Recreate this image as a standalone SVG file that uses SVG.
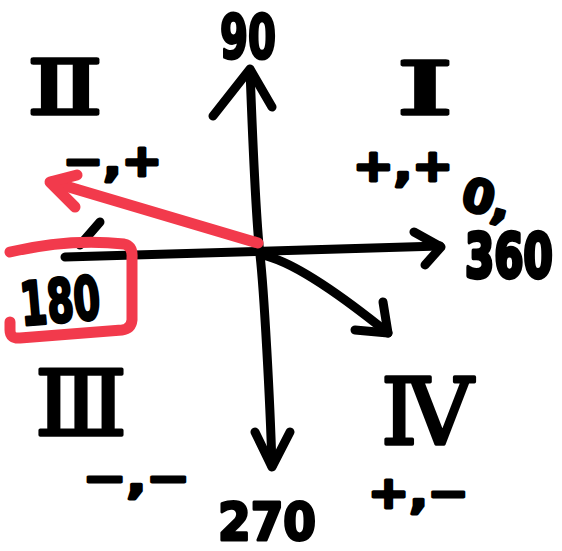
<svg xmlns="http://www.w3.org/2000/svg" width="562" height="551" viewBox="0 0 562 551">
<style>
.ink{fill:none;stroke:#000;stroke-width:9;stroke-linecap:round;stroke-linejoin:round}
.red{fill:none;stroke:#F23A4C;stroke-width:11;stroke-linecap:round;stroke-linejoin:round}
.t{font-family:"DejaVu Sans","Liberation Sans",sans-serif;font-weight:bold;fill:#000;stroke:#000;stroke-width:3;stroke-linejoin:round}
.r{font-family:"DejaVu Serif","Liberation Serif",serif;font-weight:normal;fill:#000;stroke:#000;stroke-width:3.5;stroke-linejoin:round}
</style>
<rect width="562" height="551" fill="#fff"/>
<g id="connectors">
  <path id="axis-x" class="ink" d="M65,257 Q250,252 440,246"/>
  <path id="axis-x-head" class="ink" d="M414,232 L441,247 L425,265"/>
  <path id="axis-y-up" class="ink" d="M250,70 C253,150 256,220 260,255 S270,400 272,466"/>
  <path id="axis-y-up-head" class="ink" d="M213,116 L250,69 L272,107"/>
  <path id="axis-y-down-head" class="ink" d="M255,432 L272,467 L290,432"/>
  <path id="diag" class="ink" d="M262,255 Q300,262 388,333"/>
  <path id="diag-head" class="ink" d="M383,302 L388,333 L355,330"/>
  <path id="stroke-mark" class="ink" d="M100,222 L80,245"/>
  <path id="red-arrow" class="red" d="M258,243 L52,182"/>
  <path id="red-arrow-head" class="red" d="M77,175 L50,182 L75,207"/>
</g>
<g id="box-180">
  <path class="red" d="M10,252 Q70,238 124,244 Q133,246 132,258 L132,320 Q131,329 122,330 L20,338 Q10,339 10,330 L10,322"/>
  <text class="t" x="20" y="322" font-size="60" textLength="80" lengthAdjust="spacingAndGlyphs" transform="rotate(-5 60 300)">180</text>
</g>
<g id="label-90"><text class="t" x="220" y="58" font-size="60" textLength="56" lengthAdjust="spacingAndGlyphs">90</text></g>
<g id="label-360">
  <text class="t" x="463" y="212" font-size="46" transform="rotate(15 476 195)">0,</text>
  <text class="t" x="0" y="0" font-size="42" transform="translate(465 277) scale(1 1.45)">360</text>
</g>
<g id="label-270"><text class="t" x="218" y="540" font-size="52" textLength="98" lengthAdjust="spacingAndGlyphs">270</text></g>
<g id="quadrant-1">
  <text class="r" x="396" y="114" font-size="72" textLength="58" lengthAdjust="spacingAndGlyphs">Ⅰ</text>
  <text class="t" x="353" y="181" font-size="44" textLength="100" lengthAdjust="spacingAndGlyphs">+,+</text>
</g>
<g id="quadrant-2">
  <text class="r" x="27" y="114" font-size="74" textLength="76" lengthAdjust="spacingAndGlyphs">Ⅱ</text>
  <text class="t" x="63" y="176" font-size="44" textLength="99" lengthAdjust="spacingAndGlyphs">−,+</text>
</g>
<g id="quadrant-3">
  <text class="r" x="35" y="435" font-size="90" textLength="92" lengthAdjust="spacingAndGlyphs">Ⅲ</text>
  <text class="t" x="83" y="493" font-size="44" textLength="107" lengthAdjust="spacingAndGlyphs">−,−</text>
</g>
<g id="quadrant-4">
  <text class="r" x="381" y="444" font-size="92" textLength="92" lengthAdjust="spacingAndGlyphs">Ⅳ</text>
  <text class="t" x="368" y="508" font-size="44" textLength="101" lengthAdjust="spacingAndGlyphs">+,−</text>
</g>
</svg>
